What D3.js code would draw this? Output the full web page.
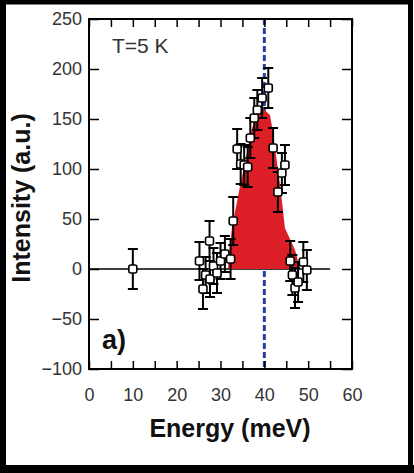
<!DOCTYPE html>
<html><head><meta charset="utf-8">
<script src="https://cdn.jsdelivr.net/npm/d3@7"></script>
<style>
html,body{margin:0;padding:0;background:#fff;}
svg{display:block;font-family:"Liberation Sans",Arial,sans-serif;}
</style></head>
<body>
<svg id="chart" width="414" height="473"></svg>
<script>
// ---- data ----
const energy    = [10, 25.2, 26, 26.6, 27.5, 27.6, 28.4, 29.2, 30, 31, 32.3, 32.9, 33.8, 34.6, 35.4, 36.2, 36.8, 37.7, 38.4, 39.5, 40.9, 42, 43.1, 44, 44.7, 45.9, 46.4, 47, 47.7, 48.9, 49.7];
const intensity = [0, 8, -20, -6, 28, -10, 3, -4, 8, 15, 10, 48, 120, 105, 104, 102, 131, 151, 159, 171, 181, 121, 77, 96, 104, 8, -6, -19, -13, 7, -1];
const errors    = [20, 19, 20, 18, 20, 18, 18, 20, 18, 18, 20, 24, 20, 20, 20, 20, 20, 20, 20, 20, 20, 20, 20, 20, 20, 20, 20, 20, 20, 20, 20];
const fitEnergy    = [31.7, 32.6, 34.5, 37.2, 38.6, 40, 41.3, 41.8, 43.6, 44.7, 47, 48.2];
const fitIntensity = [0, 41, 84, 141, 156, 159, 154, 141, 84, 41, 19, 0];
const xTicks = [0, 10, 20, 30, 40, 50, 60];
const yTicks = [-100, -50, 0, 50, 100, 150, 200, 250];
const peakEnergy = 40;
const baselineRange = [0, 55];

const svg = d3.select("#chart");
const x = d3.scaleLinear().domain([0, 60]).range([89, 352]);
const y = d3.scaleLinear().domain([-100, 250]).range([369, 19]);

// outer frame
svg.append("rect").attr("x", 2.5).attr("y", 2).attr("width", 408).attr("height", 466)
  .attr("fill", "none").attr("stroke", "#000").attr("stroke-width", 5);
svg.append("rect").attr("x", 0).attr("y", 465).attr("width", 414).attr("height", 8).attr("fill", "#000");
svg.append("rect").attr("x", 0).attr("y", 0).attr("width", 6).attr("height", 473).attr("fill", "#000");

// baseline
svg.append("line").attr("x1", x(baselineRange[0])).attr("x2", x(baselineRange[1]))
  .attr("y1", y(0)).attr("y2", y(0)).attr("stroke", "#000").attr("stroke-width", 1.5);

// dashed line
svg.append("line").attr("x1", x(peakEnergy)).attr("x2", x(peakEnergy))
  .attr("y1", y(250)).attr("y2", y(-100))
  .attr("stroke", "#2b3d9e").attr("stroke-width", 3).attr("stroke-dasharray", "6,3");

// red fit
const fit = fitEnergy.map((e, i) => [e, fitIntensity[i]]);
svg.append("path").datum(fit)
  .attr("d", d3.area().x(d => x(d[0])).y0(y(0)).y1(d => y(d[1])).curve(d3.curveLinear))
  .attr("fill", "#dc1f26");

// error bars + markers
const pts = energy.map((e, i) => ({e, v: intensity[i], s: errors[i]}));
const g = svg.append("g");
pts.forEach(p => {
  const cx = x(p.e);
  g.append("line").attr("x1", cx).attr("x2", cx).attr("y1", y(p.v - p.s)).attr("y2", y(p.v + p.s))
    .attr("stroke", "#000").attr("stroke-width", 2);
  [p.v - p.s, p.v + p.s].forEach(v => {
    g.append("line").attr("x1", cx - 5).attr("x2", cx + 5).attr("y1", y(v)).attr("y2", y(v))
      .attr("stroke", "#000").attr("stroke-width", 2);
  });
});
pts.forEach(p => {
  g.append("rect").attr("x", x(p.e) - 4).attr("y", y(p.v) - 4).attr("width", 8).attr("height", 8)
    .attr("rx", 2).attr("fill", "#fff").attr("stroke", "#000").attr("stroke-width", 1.6);
});

// axes ticks (inward on all sides)
const tickStyle = sel => { sel.select(".domain").remove(); sel.selectAll("line").attr("stroke", "#000").attr("stroke-width", 1.5); };
svg.append("g").attr("transform", `translate(0,${y(-100)})`)
  .call(d3.axisBottom(x).tickValues(d3.range(0, 61, 5)).tickSize(-8).tickFormat("")).call(tickStyle);
svg.append("g").attr("transform", `translate(0,${y(250)})`)
  .call(d3.axisTop(x).tickValues(d3.range(0, 61, 5)).tickSize(-8).tickFormat("")).call(tickStyle);
svg.append("g").attr("transform", `translate(${x(0)},0)`)
  .call(d3.axisLeft(y).tickValues(yTicks).tickSize(-10).tickFormat("")).call(tickStyle);
svg.append("g").attr("transform", `translate(${x(60)},0)`)
  .call(d3.axisRight(y).tickValues(yTicks).tickSize(-10).tickFormat("")).call(tickStyle);

// plot box
svg.append("rect").attr("x", x(0)).attr("y", y(250)).attr("width", x(60) - x(0)).attr("height", y(-100) - y(250))
  .attr("fill", "none").attr("stroke", "#000").attr("stroke-width", 2);

// tick labels
const lab = sel => { sel.select(".domain").remove(); sel.selectAll("text").attr("font-size", 18).attr("fill", "#333").attr("font-family", "Liberation Sans, Arial, sans-serif"); };
svg.append("g").attr("transform", `translate(0,${y(-100)})`)
  .call(d3.axisBottom(x).tickValues(xTicks).tickSize(0).tickPadding(19).tickFormat(d3.format("d"))).call(lab);
svg.append("g").attr("transform", `translate(${x(0)},0)`)
  .call(d3.axisLeft(y).tickValues(yTicks).tickSize(0).tickPadding(7).tickFormat(d3.format("d"))).call(lab);

// titles
svg.append("text").attr("x", 230).attr("y", 437).attr("text-anchor", "middle")
  .attr("font-size", 25).attr("font-weight", "bold").attr("fill", "#111").text("Energy (meV)");
svg.append("text").attr("transform", "translate(30,198) rotate(-90)").attr("text-anchor", "middle")
  .attr("font-size", 25).attr("font-weight", "bold").attr("fill", "#111").text("Intensity (a.u.)");
svg.append("text").attr("x", 112).attr("y", 53).attr("font-size", 21).attr("fill", "#333").text("T=5 K");
svg.append("text").attr("x", 102).attr("y", 349).attr("font-size", 27).attr("font-weight", "bold").attr("fill", "#111").text("a)");
</script>
</body></html>
